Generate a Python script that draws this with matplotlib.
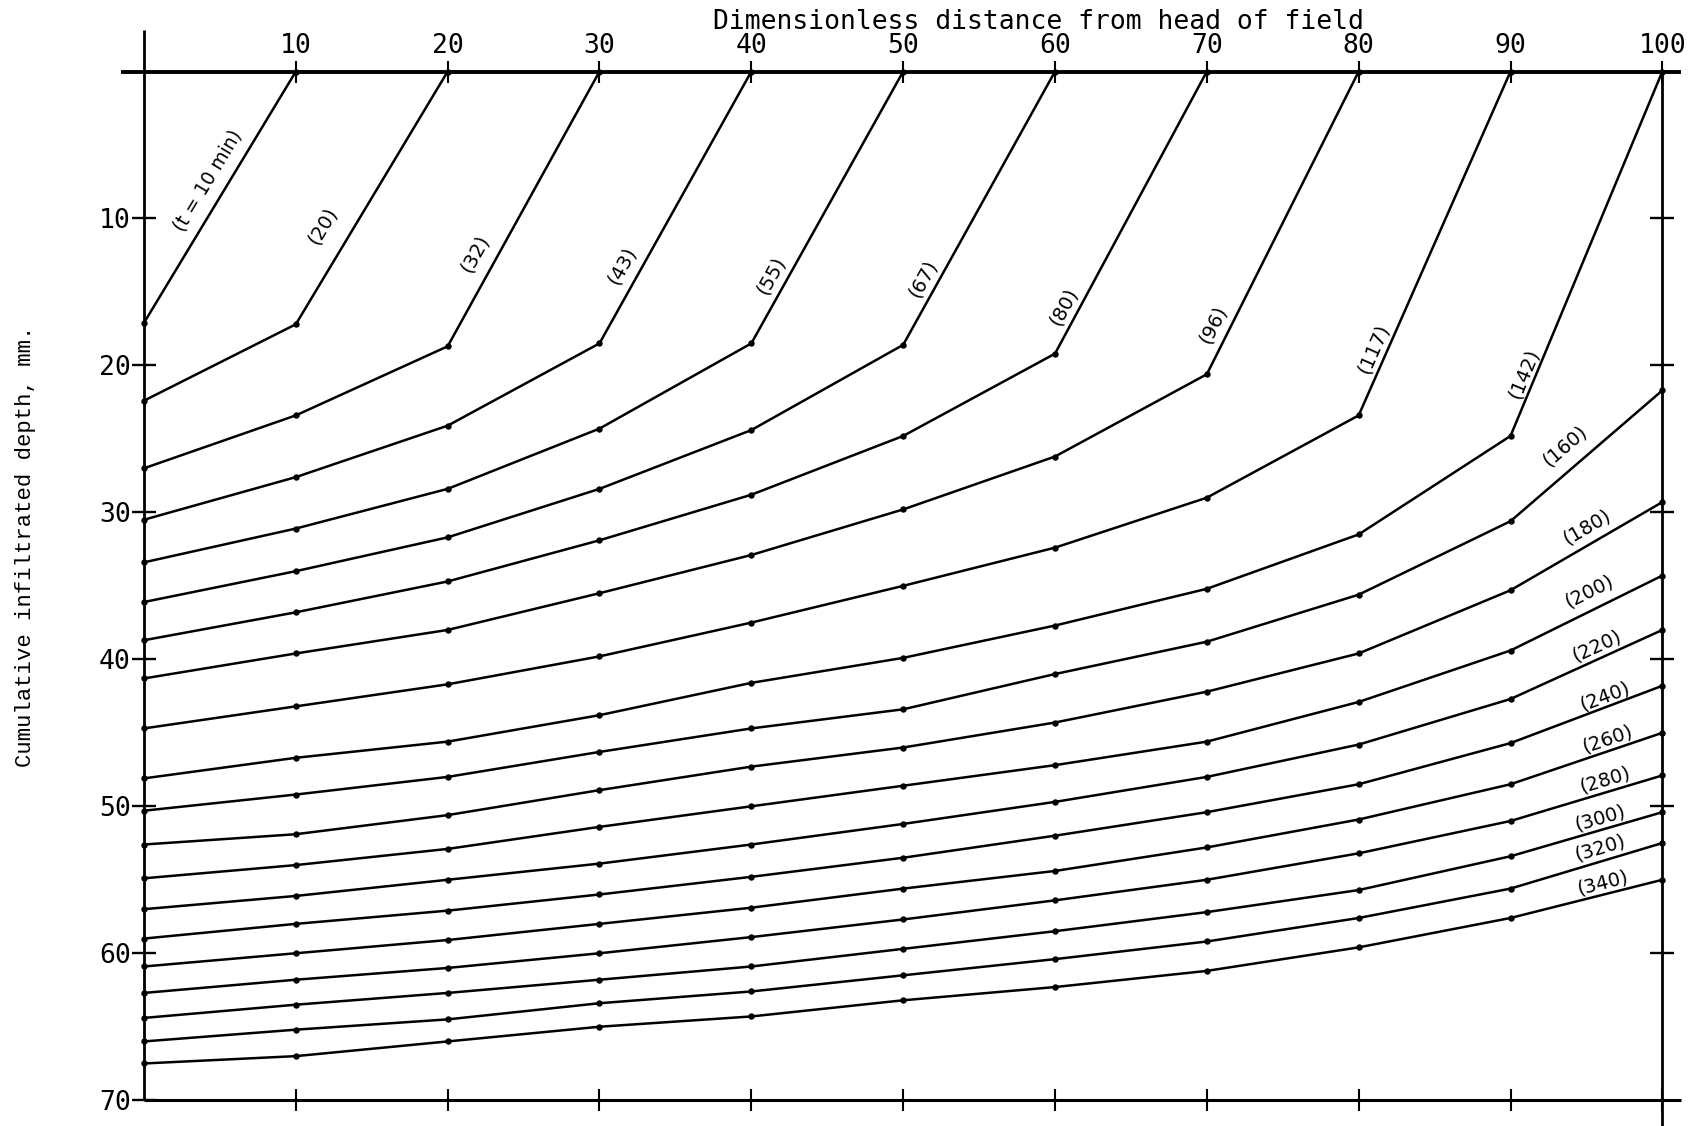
import math
import matplotlib
matplotlib.use("Agg")
import matplotlib.pyplot as plt

# distance from head of field (dimensionless) and advance times (min)
distance = [0, 10, 20, 30, 40, 50, 60, 70, 80, 90, 100]
times = [10, 20, 32, 43, 55, 67, 80, 96, 117, 142,
         160, 180, 200, 220, 240, 260, 280, 300, 320, 340]

# cumulative infiltrated depth (mm) at distance[0], distance[1], ...
d010 = [17.1, 0]
d020 = [22.4, 17.2, 0]
d032 = [27.0, 23.4, 18.7, 0]
d043 = [30.5, 27.6, 24.1, 18.5, 0]
d055 = [33.4, 31.1, 28.4, 24.3, 18.5, 0]
d067 = [36.1, 34.0, 31.7, 28.4, 24.4, 18.6, 0]
d080 = [38.7, 36.8, 34.7, 31.9, 28.8, 24.8, 19.2, 0]
d096 = [41.3, 39.6, 38.0, 35.5, 32.9, 29.8, 26.2, 20.6, 0]
d117 = [44.7, 43.2, 41.7, 39.8, 37.5, 35.0, 32.4, 29.0, 23.4, 0]
d142 = [48.1, 46.7, 45.6, 43.8, 41.6, 39.9, 37.7, 35.2, 31.5, 24.8, 0]
d160 = [50.3, 49.2, 48.0, 46.3, 44.7, 43.4, 41.0, 38.8, 35.6, 30.6, 21.7]
d180 = [52.6, 51.9, 50.6, 48.9, 47.3, 46.0, 44.3, 42.2, 39.6, 35.3, 29.3]
d200 = [54.9, 54.0, 52.9, 51.4, 50.0, 48.6, 47.2, 45.6, 42.9, 39.4, 34.3]
d220 = [57.0, 56.1, 55.0, 53.9, 52.6, 51.2, 49.7, 48.0, 45.8, 42.7, 38.0]
d240 = [59.0, 58.0, 57.1, 56.0, 54.8, 53.5, 52.0, 50.4, 48.5, 45.7, 41.8]
d260 = [60.9, 60.0, 59.1, 58.0, 56.9, 55.6, 54.4, 52.8, 50.9, 48.5, 45.0]
d280 = [62.7, 61.8, 61.0, 60.0, 58.9, 57.7, 56.4, 55.0, 53.2, 51.0, 47.9]
d300 = [64.4, 63.5, 62.7, 61.8, 60.9, 59.7, 58.5, 57.2, 55.7, 53.4, 50.4]
d320 = [66.0, 65.2, 64.5, 63.4, 62.6, 61.5, 60.4, 59.2, 57.6, 55.6, 52.5]
d340 = [67.5, 67.0, 66.0, 65.0, 64.3, 63.2, 62.3, 61.2, 59.6, 57.6, 55.0]

curves = [d010, d020, d032, d043, d055, d067, d080, d096, d117, d142,
          d160, d180, d200, d220, d240, d260, d280, d300, d320, d340]

labels = ["(t = 10 min)"] + ["(%d)" % t for t in times[1:]]
# where each curve label sits (data coords)
lab_x = [4.2, 11.8, 21.8, 31.5, 41.3, 51.3, 60.6, 70.4, 81.0, 90.9,
         93.6, 95.0, 95.2, 95.7, 96.2, 96.4, 96.2, 95.9, 95.9, 96.1]
lab_y = [7.4, 10.5, 12.4, 13.2, 13.9, 14.1, 16.0, 17.2, 18.9, 20.6,
         25.5, 31.0, 35.4, 39.1, 42.5, 45.4, 48.2, 50.8, 52.8, 55.2]

fig = plt.figure(figsize=(16.98, 11.26), dpi=100)
ax = fig.add_axes([0.0848, 0.0229, 0.8942, 0.9136])
ax.set_xlim(0, 100)
ax.set_ylim(70, 0)

for c in curves:
    ax.plot(distance[:len(c)], c, "-", color="black", lw=1.8,
            marker="o", markersize=3.6, clip_on=False, zorder=3)

for i, c in enumerate(curves):
    n = len(c)
    j = n - 2
    p1 = ax.transData.transform((distance[j], c[j]))
    p2 = ax.transData.transform((distance[j + 1], c[j + 1]))
    ang = math.degrees(math.atan2(p2[1] - p1[1], p2[0] - p1[0]))
    ax.text(lab_x[i], lab_y[i], labels[i], rotation=ang, rotation_mode="anchor",
            ha="center", va="center", fontsize=14 if i else 13.5,
            family="DejaVu Sans")

# frame lines, drawn a bit past the corners like the original
for sp in ax.spines.values():
    sp.set_visible(False)
kw = dict(transform=ax.transAxes, color="black", clip_on=False, solid_capstyle="butt")
ax.plot([-0.015, 1.012], [1, 1], lw=2.8, **kw)
ax.plot([0, 0], [0, 1.04], lw=2.0, **kw)
ax.plot([1, 1], [-0.026, 1], lw=2.0, **kw)
ax.plot([0, 1.012], [0, 0], lw=2.2, **kw)

ax.set_xticks(range(10, 101, 10))
ax.set_yticks(range(10, 71, 10))
ax.tick_params(axis="x", top=True, bottom=True, labeltop=True, labelbottom=False,
               direction="inout", length=16, width=1.5, pad=1)
ax.tick_params(axis="y", left=True, right=False, direction="inout",
               length=17, width=1.7, pad=1)
for t in ax.get_xticklabels() + ax.get_yticklabels():
    t.set_fontfamily("DejaVu Sans Mono")
    t.set_fontsize(19)

sec = ax.secondary_yaxis("right")
sec.set_yticks(range(10, 61, 10))
sec.tick_params(direction="inout", length=17, width=1.7, labelright=False)
sec.spines["right"].set_visible(False)

fig.text(1038 / 1698, 1 - 29 / 1126, "Dimensionless distance from head of field",
         ha="center", va="baseline", family="DejaVu Sans Mono", size=19)
fig.text(26 / 1698, 0.515, "Cumulative infiltrated depth, mm.", rotation=90,
         ha="center", va="center", family="Liberation Mono", size=16)

fig.savefig("out.png", dpi=100)
